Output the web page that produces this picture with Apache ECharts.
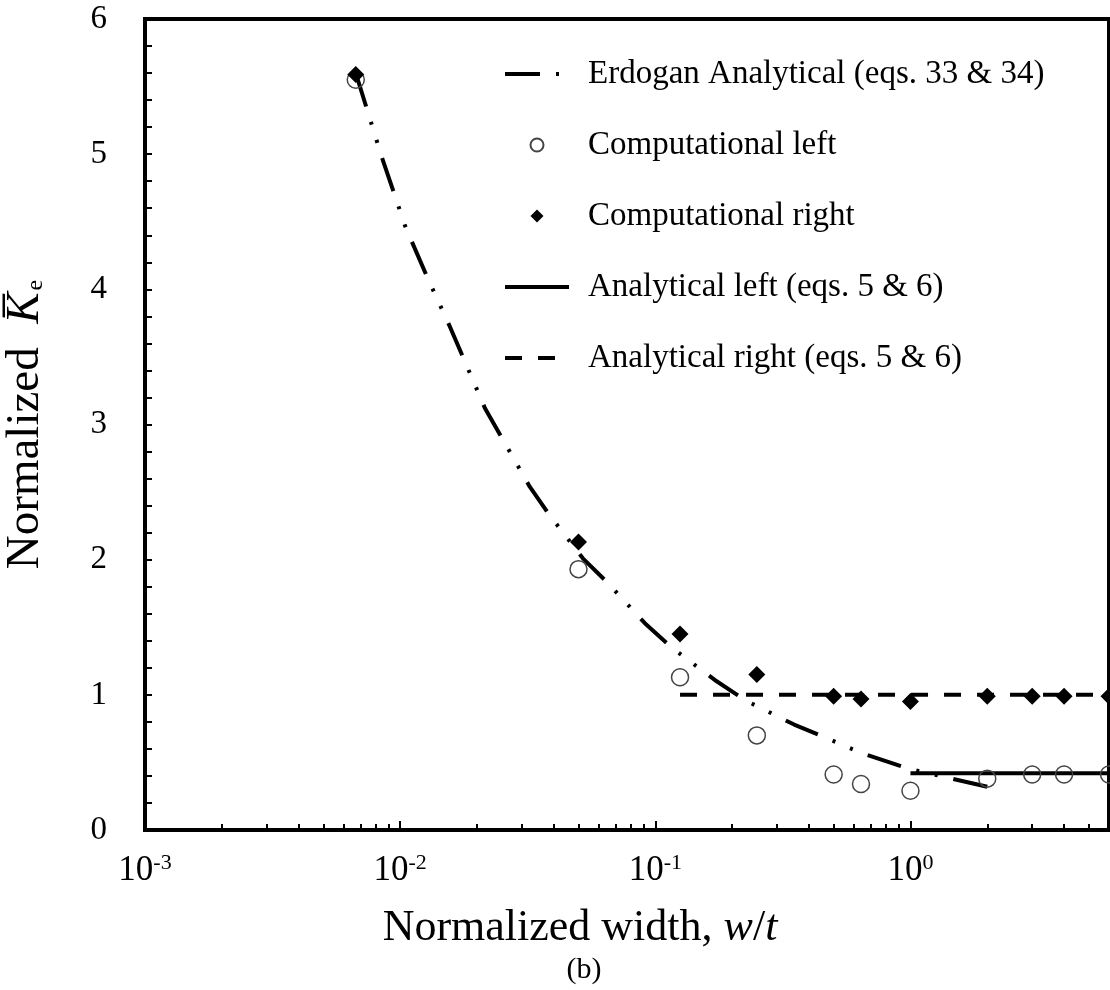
<!DOCTYPE html>
<html>
<head>
<meta charset="utf-8">
<script src="https://cdn.jsdelivr.net/npm/echarts@6/dist/echarts.min.js"></script>
<style>
  html, body { margin: 0; padding: 0; background: #fff; }
  #chart { width: 1110px; height: 990px; }
</style>
</head>
<body>
<div id="chart"></div>
<script>
// Normalized width w/t (log axis) and normalized stress intensity K_e
const erdoganX = [0.0067, 0.0085, 0.0105, 0.0127, 0.0157, 0.0215, 0.0322, 0.0385, 0.052, 0.065, 0.091, 0.116, 0.171, 0.225, 0.35, 0.47, 0.64, 1.0, 1.38, 2.0];
const erdoganY = [5.60, 4.97, 4.46, 4.10, 3.72, 3.12, 2.54, 2.33, 2.01, 1.83, 1.53, 1.35, 1.11, 0.96, 0.78, 0.68, 0.57, 0.45, 0.39, 0.32];

const compX = [0.0067, 0.05, 0.125, 0.25, 0.5, 0.64, 1, 2, 3, 4, 6];
const compLeftY = [5.55, 1.93, 1.13, 0.70, 0.41, 0.34, 0.29, 0.38, 0.41, 0.41, 0.41];
const compRightY = [5.59, 2.13, 1.45, 1.15, 0.99, 0.97, 0.95, 0.99, 0.99, 0.99, 0.99];

const analyticalLeftX = [1, 6];
const analyticalLeftY = [0.42, 0.42];
const analyticalRightX = [0.125, 6];
const analyticalRightY = [1.0, 1.0];

const majorTicksX = [0.001, 0.01, 0.1, 1];
const seriesNames = [
  'Erdogan Analytical (eqs. 33 & 34)',
  'Computational left',
  'Computational right',
  'Analytical left (eqs. 5 & 6)',
  'Analytical right (eqs. 5 & 6)'
];

// minor log ticks: 2..9 within each decade, up to the axis end
const minorTicksX = [];
majorTicksX.forEach(function (d) {
  for (let k = 2; k <= 9; k++) {
    const v = +(d * k).toPrecision(3);
    if (v < 6) minorTicksX.push(v);
  }
});

const pairs = (xs, ys) => xs.map((x, i) => [x, ys[i]]);
const FONT = '"Liberation Serif", "Times New Roman", serif';
// legend entries of the line series show only the stroke
const lineOnlyLegend = { color: 'rgba(0,0,0,0)', borderWidth: 0, opacity: 0 };

const chart = echarts.init(document.getElementById('chart'), null, { renderer: 'canvas' });
chart.setOption({
  animation: false,
  backgroundColor: '#fff',
  color: ['#000'],
  textStyle: { fontFamily: FONT, color: '#000' },
  title: {
    text: '(b)',
    left: 579,
    top: 950,
    textAlign: 'center',
    textStyle: { fontFamily: FONT, fontSize: 30, fontWeight: 'normal', color: '#000' }
  },
  grid: {
    left: 145, right: 1, top: 19, bottom: 160,
    outerBoundsMode: 'none',
    containLabel: false,
    show: true, borderColor: '#000', borderWidth: 4, backgroundColor: '#fff'
  },
  legend: {
    orient: 'vertical',
    left: 503,
    top: 54,
    padding: 0,
    itemWidth: 64,
    itemHeight: 13,
    itemGap: 31,
    selectedMode: false,
    symbolKeepAspect: true,
    data: [
      { name: seriesNames[0], itemStyle: lineOnlyLegend },
      { name: seriesNames[1] },
      { name: seriesNames[2], icon: 'path://M0,-1L1,0L0,1L-1,0Z' },
      { name: seriesNames[3], itemStyle: lineOnlyLegend },
      { name: seriesNames[4], itemStyle: lineOnlyLegend }
    ],
    lineStyle: { width: 'inherit' },
    textStyle: { fontFamily: FONT, fontSize: 33, lineHeight: 40, color: '#000', padding: [0, 0, 0, 14] }
  },
  xAxis: [{
    type: 'log',
    logBase: 10,
    min: 0.001,
    max: 6,
    axisLine: { show: true, lineStyle: { color: '#000', width: 4 } },
    axisTick: { show: true, inside: true, length: 9, customValues: majorTicksX, lineStyle: { color: '#000', width: 2 } },
    minorTick: { show: false },
    splitLine: { show: false },
    axisLabel: {
      customValues: majorTicksX,
      margin: 22,
      formatter: function (v) {
        return '{b|10}{s|' + Math.round(Math.log10(v)) + '}';
      },
      rich: {
        b: { fontFamily: FONT, fontSize: 35, color: '#000' },
        s: { fontFamily: FONT, fontSize: 22, color: '#000', padding: [0, 0, 16, 0] }
      }
    },
    name: 'Normalized width, {i|w}/{i|t}',
    nameLocation: 'middle',
    nameGap: 76,
    nameTextStyle: {
      fontFamily: FONT, fontSize: 44, color: '#000', padding: [0, 94, 0, 0],
      rich: { i: { fontFamily: FONT, fontSize: 44, fontStyle: 'italic', color: '#000' } }
    }
  }, {
    // minor decade ticks
    type: 'log',
    logBase: 10,
    min: 0.001,
    max: 6,
    position: 'bottom',
    axisLine: { show: false },
    axisTick: { show: true, inside: true, length: 6, customValues: minorTicksX, lineStyle: { color: '#000', width: 2 } },
    axisLabel: { show: false },
    splitLine: { show: false }
  }],
  yAxis: {
    type: 'value',
    min: 0,
    max: 6,
    interval: 1,
    axisLine: { show: true, lineStyle: { color: '#000', width: 4 } },
    axisTick: { show: true, inside: true, length: 7, lineStyle: { color: '#000', width: 2 } },
    minorTick: { show: true, splitNumber: 5, length: 7, lineStyle: { color: '#000', width: 2 } },
    splitLine: { show: false },
    axisLabel: { margin: 38, fontFamily: FONT, fontSize: 33, color: '#000' },
    name: 'Normalized  {k|K\u0305}{e|e}',
    nameLocation: 'middle',
    nameGap: 96,
    nameTextStyle: {
      fontFamily: FONT, fontSize: 47, color: '#000',
      rich: {
        k: { fontFamily: FONT, fontSize: 47, fontStyle: 'italic', color: '#000' },
        e: { fontFamily: FONT, fontSize: 24, color: '#000', padding: [20, 0, 0, 2] }
      }
    }
  },
  series: [{
    name: seriesNames[0],
    type: 'line',
    data: pairs(erdoganX, erdoganY),
    showSymbol: false,
    symbol: 'none',
    itemStyle: { color: '#000' },
    lineStyle: { color: '#000', width: 4, type: [35, 16, 3, 16, 3, 16], cap: 'butt' },
    z: 3
  }, {
    name: seriesNames[1],
    type: 'scatter',
    data: pairs(compX, compLeftY),
    symbol: 'circle',
    symbolSize: 17,
    itemStyle: { color: 'rgba(255,255,255,0)', borderColor: '#444', borderWidth: 1.5, opacity: 1 },
    z: 4
  }, {
    name: seriesNames[2],
    type: 'scatter',
    data: pairs(compX, compRightY),
    symbol: 'diamond',
    symbolSize: 17,
    itemStyle: { color: '#000', opacity: 1 },
    z: 4
  }, {
    name: seriesNames[3],
    type: 'line',
    data: pairs(analyticalLeftX, analyticalLeftY),
    showSymbol: false,
    symbol: 'none',
    itemStyle: { color: '#000' },
    lineStyle: { color: '#000', width: 4, type: 'solid' },
    z: 3
  }, {
    name: seriesNames[4],
    type: 'line',
    data: pairs(analyticalRightX, analyticalRightY),
    showSymbol: false,
    symbol: 'none',
    itemStyle: { color: '#000' },
    lineStyle: { color: '#000', width: 4, type: [17, 16], cap: 'butt' },
    z: 3
  }]
});
</script>
</body>
</html>
